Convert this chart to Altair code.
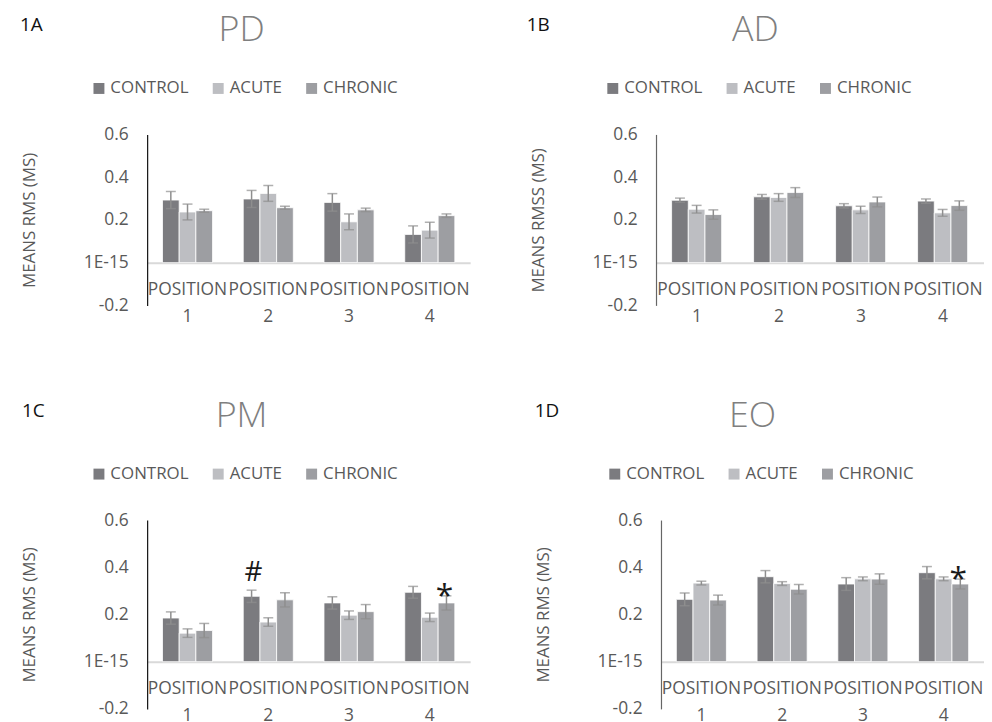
import altair as alt
import pandas as pd

positions = ["POSITION 1", "POSITION 2", "POSITION 3", "POSITION 4"]
groups = ["CONTROL", "ACUTE", "CHRONIC"]
colors = ["#7b7b7f", "#bdbec2", "#9d9ea2"]

ytick_values = [-0.2, 0.0, 0.2, 0.4, 0.6]
ytick_labels = ["-0.2", "1E-15", "0.2", "0.4", "0.6"]

# PD (1A)
pd_control = [0.293, 0.298, 0.282, 0.132]
pd_acute = [0.237, 0.324, 0.191, 0.152]
pd_chronic = [0.243, 0.257, 0.247, 0.220]
pd_control_err = [0.040, 0.040, 0.041, 0.040]
pd_acute_err = [0.037, 0.037, 0.037, 0.037]
pd_chronic_err = [0.007, 0.007, 0.008, 0.008]

# AD (1B)
ad_control = [0.292, 0.308, 0.266, 0.288]
ad_acute = [0.250, 0.305, 0.247, 0.233]
ad_chronic = [0.225, 0.328, 0.284, 0.267]
ad_control_err = [0.010, 0.011, 0.010, 0.010]
ad_acute_err = [0.018, 0.018, 0.017, 0.016]
ad_chronic_err = [0.022, 0.023, 0.023, 0.022]

# PM (1C)
pm_control = [0.185, 0.277, 0.249, 0.294]
pm_acute = [0.121, 0.168, 0.197, 0.188]
pm_chronic = [0.132, 0.262, 0.212, 0.249]
pm_control_err = [0.026, 0.026, 0.026, 0.025]
pm_acute_err = [0.018, 0.018, 0.018, 0.018]
pm_chronic_err = [0.030, 0.030, 0.030, 0.030]

# EO (1D)
eo_control = [0.264, 0.360, 0.329, 0.377]
eo_acute = [0.333, 0.331, 0.351, 0.351]
eo_chronic = [0.261, 0.307, 0.350, 0.329]
eo_control_err = [0.027, 0.026, 0.027, 0.026]
eo_acute_err = [0.008, 0.008, 0.008, 0.008]
eo_chronic_err = [0.021, 0.020, 0.022, 0.021]

# significance marks: (panel, position, group, symbol)
annotations = [
    ("PM", "POSITION 2", "CONTROL", "#"),
    ("PM", "POSITION 4", "CHRONIC", "*"),
    ("EO", "POSITION 4", "CHRONIC", "*"),
]

LABEL = "#595959"
FONT = "Open Sans"


def make_df(means, errs):
    rows = []
    for g, m, e in zip(groups, means, errs):
        for p, v, s in zip(positions, m, e):
            rows.append({"position": p, "group": g, "value": v, "err": s})
    return pd.DataFrame(rows)


def label_expr():
    parts = [f"abs(datum.value - ({v})) < 1e-9 ? '{l}'" for v, l in zip(ytick_values, ytick_labels)]
    return " : ".join(parts) + " : datum.label"


def panel(name, letter, ytitle, df, w, h, ycolor, title_x, letter_x, legend_x):
    xscale = alt.Scale(domain=positions, paddingInner=0.38, paddingOuter=0.19)
    xaxis = alt.Axis(
        orient="bottom", offset=-h / 4, labelExpr="split(datum.label, ' ')",
        labelAngle=0, labelFontSize=17.5, labelColor=LABEL, labelPadding=18,
        labelLineHeight=27, labelBaseline="top", labelOverlap=False, ticks=False,
        domainColor="#d9d9d9", domainWidth=2, title=None, labelFont=FONT,
    )
    yscale = alt.Scale(domain=[-0.2, 0.6], nice=False, zero=False)
    yaxis = alt.Axis(
        values=ytick_values, labelExpr=label_expr(), grid=False, ticks=False,
        domainColor=ycolor, domainWidth=1.2, labelFontSize=17.5, labelColor=LABEL,
        labelPadding=19, labelFont=FONT, title=ytitle, titleX=-113, titleY=h / 2,
        titleAngle=270, titleBaseline="alphabetic", titleAlign="center",
        titleFontSize=17, titleFontWeight="normal", titleColor=LABEL, titleFont=FONT,
    )
    x = alt.X("position:N", scale=xscale, axis=xaxis)
    xo = alt.XOffset("group:N", scale=alt.Scale(domain=groups, paddingInner=0, paddingOuter=0))

    base = alt.Chart(df)
    bars = base.mark_bar(stroke="white", strokeWidth=0.8).encode(
        x=x, xOffset=xo,
        y=alt.Y("value:Q", scale=yscale, axis=yaxis),
        color=alt.Color(
            "group:N", scale=alt.Scale(domain=groups, range=colors),
            legend=alt.Legend(
                orient="none", legendX=legend_x, legendY=-55, direction="horizontal",
                columns=3, title=None, symbolType="square", symbolSize=121,
                symbolStrokeWidth=0, labelFontSize=17, labelColor=LABEL,
                labelFont=FONT, columnPadding=21, labelOffset=3, padding=0,
            ),
        ),
    )
    calc = base.transform_calculate(lo="datum.value - datum.err", hi="datum.value + datum.err")
    ecol = "#8e8e8e"
    rules = calc.mark_rule(color=ecol, strokeWidth=1.5).encode(
        x=x, xOffset=xo, y=alt.Y("lo:Q", scale=yscale, axis=yaxis), y2="hi:Q"
    )
    cap_lo = calc.mark_tick(color=ecol, size=10, thickness=1.5).encode(
        x=x, xOffset=xo, y=alt.Y("lo:Q", scale=yscale, axis=yaxis)
    )
    cap_hi = calc.mark_tick(color=ecol, size=10, thickness=1.5).encode(
        x=x, xOffset=xo, y=alt.Y("hi:Q", scale=yscale, axis=yaxis)
    )
    layers = [bars, rules, cap_lo, cap_hi]

    ann_rows = []
    for pn, pos, grp, sym in annotations:
        if pn == name:
            r = df[(df.position == pos) & (df.group == grp)].iloc[0]
            ann_rows.append({"position": pos, "group": grp, "top": r.value + r.err, "sym": sym})
    if ann_rows:
        adf = pd.DataFrame(ann_rows)
        hash_l = alt.Chart(adf).transform_filter("datum.sym == '#'").mark_text(
            fontSize=28, baseline="alphabetic", dy=-9, dx=2, color="#1a1a1a", font=FONT
        ).encode(x=x, xOffset=xo, y=alt.Y("top:Q", scale=yscale, axis=yaxis), text="sym:N")
        star_l = alt.Chart(adf).transform_filter("datum.sym == '*'").mark_text(
            fontSize=32, baseline="alphabetic", dy=10, dx=-2, color="#1a1a1a", font=FONT
        ).encode(x=x, xOffset=xo, y=alt.Y("top:Q", scale=yscale, axis=yaxis), text="sym:N")
        layers += [hash_l, star_l]

    letter_l = alt.Chart(pd.DataFrame({"t": [letter]})).mark_text(
        align="left", baseline="alphabetic", fontSize=19, color="#111111", font=FONT
    ).encode(x=alt.value(letter_x), y=alt.value(-104), text="t:N")
    title_l = alt.Chart(pd.DataFrame({"t": [name]})).mark_text(
        align="center", baseline="alphabetic", fontSize=36, color="#7f7f7f",
        font=FONT, fontWeight=300
    ).encode(x=alt.value(title_x), y=alt.value(-94), text="t:N")
    layers += [letter_l, title_l]

    return alt.layer(*layers).properties(width=w, height=h)


pA = panel("PD", "1A", "MEANS RMS (MS)",
           make_df([pd_control, pd_acute, pd_chronic], [pd_control_err, pd_acute_err, pd_chronic_err]),
           325, 172, "#111111", 95, -128, -57)
pB = panel("AD", "1B", "MEANS RMSS (MS)",
           make_df([ad_control, ad_acute, ad_chronic], [ad_control_err, ad_acute_err, ad_chronic_err]),
           330, 172, "#666666", 100, -130, -52)
pC = panel("PM", "1C", "MEANS RMS (MS)",
           make_df([pm_control, pm_acute, pm_chronic], [pm_control_err, pm_acute_err, pm_chronic_err]),
           325, 190, "#111111", 95, -126, -57)
pD = panel("EO", "1D", "MEANS RMS (MS)",
           make_df([eo_control, eo_acute, eo_chronic], [eo_control_err, eo_acute_err, eo_chronic_err]),
           325, 190, "#666666", 92, -127, -55)

row1 = alt.hconcat(pA, pB, spacing=187, bounds="flush").resolve_scale(color="independent").resolve_legend(color="independent")
row2 = alt.hconcat(pC, pD, spacing=192, bounds="flush").resolve_scale(color="independent").resolve_legend(color="independent")

chart = alt.vconcat(row1, row2, spacing=388, bounds="flush").resolve_scale(
    color="independent"
).resolve_legend(color="independent").properties(
    padding={"left": 12, "top": 2, "right": 0, "bottom": 0}
).configure(font=FONT).configure_view(stroke=None)

chart.save("out.html", embed_options={"renderer": "svg", "actions": False})
